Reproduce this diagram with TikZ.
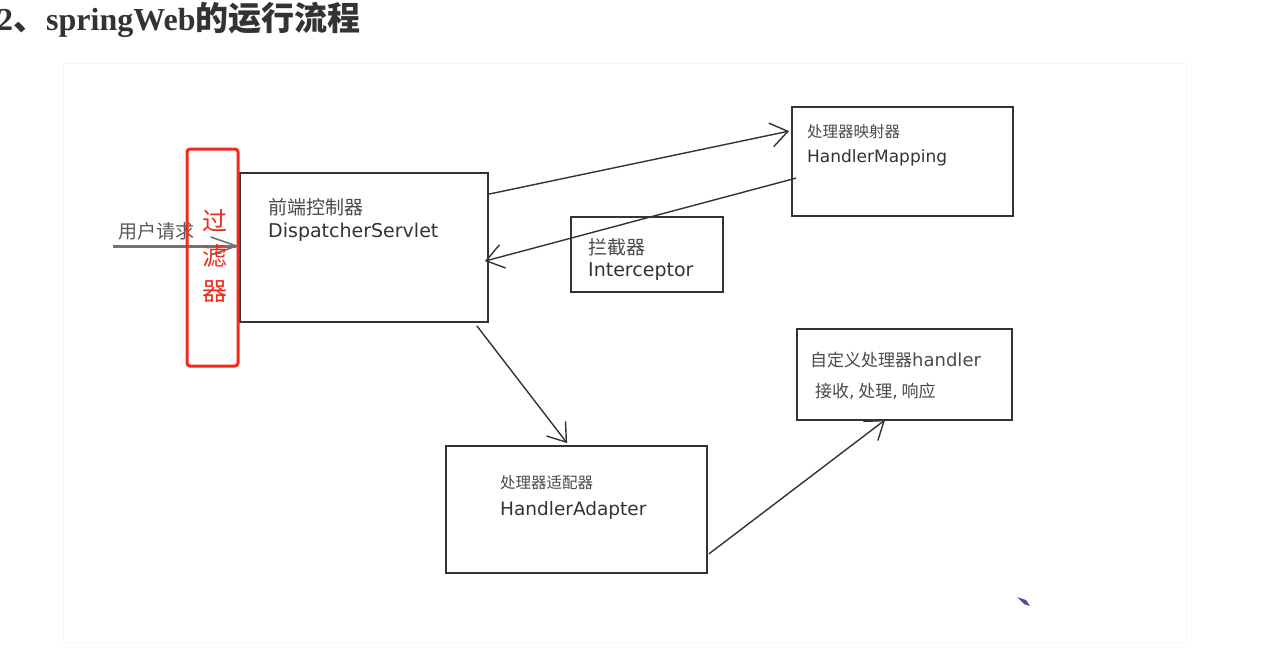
\documentclass[tikz,border=0pt]{standalone}
\usepackage{fontspec}
\setmainfont{Liberation Serif}
\newfontfamily\cjk{Noto Sans CJK SC}
\newfontfamily\hand{DejaVu Sans}
\usetikzlibrary{arrows.meta}
\definecolor{ink}{HTML}{333333}
\definecolor{txt}{HTML}{4A4A4A}
\definecolor{filt}{HTML}{F22A1E}
\tikzset{
  box/.style={draw=ink, line width=1.8pt, minimum width=#1, inner sep=0pt},
  flow/.style={draw=ink, line width=1.4pt, -{Straight Barb[length=17pt,width=24pt,line width=1.4pt]}},
  cn/.style={anchor=west, text=txt, inner sep=0pt, font=\cjk\fontsize{#1}{#1}\selectfont},
  hw/.style={anchor=west, text=ink, inner sep=0pt, font=\hand\fontsize{#1}{#1}\selectfont},
}
\begin{document}
\begin{tikzpicture}[x=1pt,y=-1pt]
\useasboundingbox (0,0) rectangle (1261,656);
\fill[white] (0,0) rectangle (1261,656);
% faint panel
\draw[draw=black!3, line width=0.8pt] (63,63) rectangle (1186,642);
% title
\node[anchor=base west, inner sep=0pt, text=ink] (title) at (-3,30)
  {\fontsize{32}{32}\selectfont\bfseries 2{\cjk\fontsize{33}{33}\selectfont 、}springWeb{\cjk\fontsize{33}{33}\selectfont 的运行流程}};
% boxes
\node[box=248pt, minimum height=149pt] (ds) at (364,247.5) {};
\node[box=221pt, minimum height=109pt] (hm) at (902.5,161.5) {};
\node[box=152pt, minimum height=75pt] (ic) at (647,254.5) {};
\node[box=261pt, minimum height=127pt] (ha) at (576.5,509.5) {};
\node[box=215pt, minimum height=91pt] (hd) at (904.5,374.5) {};
% texts
\node[cn=19] (t1) at (268,207) {前端控制器};
\node[hw=19] (t2) at (268,232) {DispatcherServlet};
\node[cn=15.5] (t3) at (807,132) {处理器映射器};
\node[hw=17] (t4) at (807,158) {HandlerMapping};
\node[cn=19] (t5) at (588,247) {拦截器};
\node[hw=19] (t6) at (588,272) {Interceptor};
\node[cn=15.5] (t7) at (500,483) {处理器适配器};
\node[hw=18.5] (t8) at (500,510) {HandlerAdapter};
\node[cn=17] (t9) at (810,360) {自定义处理器{\hand\fontsize{18}{18}\selectfont handler}};
\node[cn=17] (t10) at (815,391) {接收{\hand ,} 处理{\hand ,} 响应};
% user request
\node[cn=19, text=black!65] (ur) at (118,231) {用户请求};
\coordinate (ustart) at (113,246);
\draw[draw=black!55, line width=3pt, -{Straight Barb[length=26pt,width=18pt,line width=1.6pt]}] (ustart) -- ([yshift=1.5pt]ds.west);
% connectors
\draw[flow] ([yshift=-22pt]ds.north east) -- ([xshift=-2pt,yshift=-25pt]hm.north west);
\draw[flow] ([xshift=5pt,yshift=-72pt]hm.north west) -- ([xshift=-4pt,yshift=-89pt]ds.north east);
\draw[flow] ([xshift=-12pt,yshift=-3pt]ds.south east) -- ([xshift=122pt,yshift=2pt]ha.north west);
\draw[flow] ([xshift=1pt,yshift=20pt]ha.south east) -- ([xshift=89pt,yshift=1pt]hd.south west);
% filter
\node[draw=filt, line width=3pt, rounded corners=3pt, minimum width=51pt, minimum height=217pt, inner sep=0pt] (flt) at (212.5,257.5) {};
\node[text=filt, inner sep=0pt, font=\cjk\fontsize{25}{35}\selectfont, align=center] (fltt) at (215,256) {过\\滤\\器};
% small mark
\fill[color=blue!45!black!70] (1017,597) -- (1026,600) -- (1030,606) -- (1024,604) -- cycle;
\end{tikzpicture}
\end{document}
